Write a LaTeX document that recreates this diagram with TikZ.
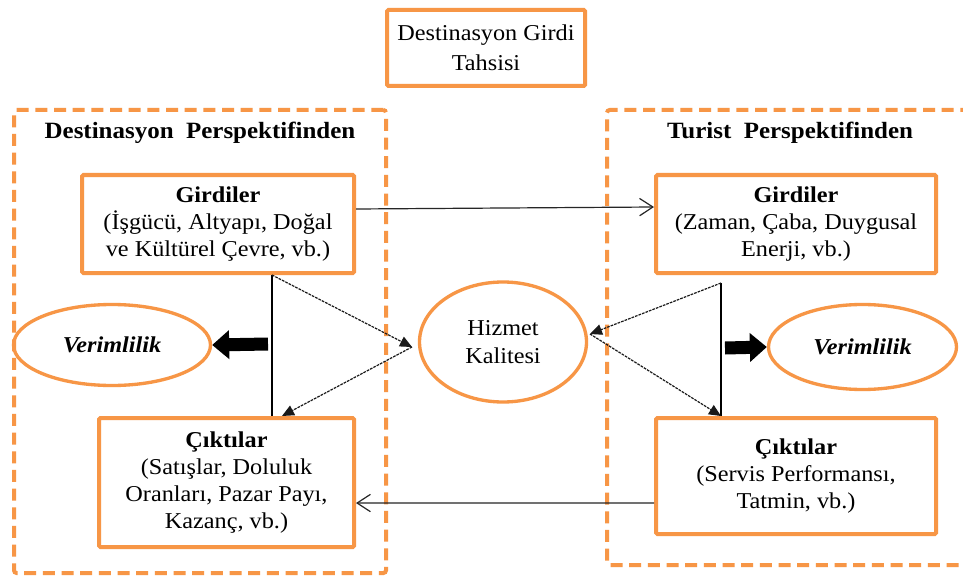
\documentclass[tikz,border=0pt]{standalone}
\usepackage{fontspec}
\setmainfont{Liberation Serif}[FakeStretch=1.07]
\usetikzlibrary{arrows.meta,shapes.geometric,calc}
\definecolor{org}{RGB}{247,150,70}
\begin{document}
\begin{tikzpicture}[x=0.75pt,y=-0.75pt,
  txt/.style={font=\fontsize{17}{20.25}\selectfont, align=center, text=black},
  head/.style={font=\bfseries\fontsize{17.5}{21}\selectfont, align=center, text=black},
  obox/.style={draw=org, line width=3pt, rounded corners=1pt, inner sep=0pt, txt},
  dbox/.style={draw=org, line width=3pt, dash pattern=on 9pt off 5pt, rounded corners=2pt, inner sep=0pt},
  oell/.style={ellipse, draw=org, line width=2.5pt, inner sep=0pt, txt},
  conn/.style={draw=black!85, line width=0.9pt, -{Straight Barb[length=10pt,width=13pt]}},
  dconn/.style={draw=black!90, line width=0.9pt, dash pattern=on 2pt off 0.8pt, -{Triangle[length=9pt,width=8pt]}},
  vline/.style={draw=black, line width=0.9pt},
  fat/.style={draw=black, line width=9.75pt, -{Triangle[length=12.75pt,width=21pt]}}
]
\fill[white] (0,0) rectangle (963,581);
\useasboundingbox (0,0) rectangle (963,581);

% dashed perspective boxes
\node[dbox, minimum width=279pt, minimum height=347.25pt] (dl) at (200,341.5) {};
\node[dbox, minimum width=276pt, minimum height=341.25pt] (dr) at (791,337.5) {};

% headings
\node[head] (hd1) at (200,133) {Destinasyon\ \ Perspektifinden};
\node[head] (hd2) at (790,133) {Turist\ \ Perspektifinden};

% top box
\node[obox, font=\fontsize{17}{22.5}\selectfont, minimum width=148.5pt, minimum height=57pt] (top) at (486,48) {Destinasyon Girdi\\Tahsisi};

% main boxes
\node[obox, minimum width=204pt, minimum height=73.5pt] (lg) at (218,224)
  {\textbf{Girdiler}\\(İşgücü, Altyapı, Doğal\\ve Kültürel Çevre, vb.)};
\node[obox, minimum width=210pt, minimum height=73.5pt] (rg) at (796,224)
  {\textbf{Girdiler}\\(Zaman, Çaba, Duygusal\\Enerji, vb.)};
\node[obox, minimum width=191.25pt, minimum height=96.75pt] (lc) at (226.5,482.5)
  {\textbf{Çıktılar}\\(Satışlar, Doluluk\\Oranları, Pazar Payı,\\Kazanç, vb.)};
\node[obox, minimum width=210pt, minimum height=87pt] (rc) at (796,476)
  {\textbf{Çıktılar}\\(Servis Performansı,\\Tatmin, vb.)};

% ellipses
\node[oell, minimum width=125.25pt, minimum height=90pt] (hk) at (503,342) {Hizmet\\[1pt]Kalitesi};
\node[oell, minimum width=147.75pt, minimum height=60.75pt] (lv) at (112,345) {\textbf{\textit{Verimlilik}}};
\node[oell, minimum width=141pt, minimum height=63.75pt] (rv) at (862.5,347) {\textbf{\textit{Verimlilik}}};

% coordinates
\coordinate (lt) at (272,275);
\coordinate (lb) at (272,416);
\coordinate (lb2) at (282,416);
\coordinate (hl) at (412,347);
\coordinate (rt) at (721,283);
\coordinate (rb) at (721,416);
\coordinate (hr) at (590,334);
\coordinate (la) at (268,344);
\coordinate (ra) at (725,348);

% vertical lines
\draw[vline] (lt) -- (lb);
\draw[vline] (rt) -- (rb);

% dashed arrows
\draw[dconn] (lt) -- (hl);
\draw[dconn] (hl) -- (lb2);
\draw[dconn] (rt) -- (hr);
\draw[dconn] (hr) -- (rb);

% fat arrows
\draw[fat] (la) -- (lv.east);
\draw[fat] (ra) -- (rv.west);

% horizontal connectors
\draw[conn] ([yshift=11.25pt]lg.east) -- ([yshift=12.75pt]rg.west);
\draw[conn] ([yshift=-20.25pt]rc.west) -- ([yshift=-15.4pt]lc.east);
\end{tikzpicture}
\end{document}
